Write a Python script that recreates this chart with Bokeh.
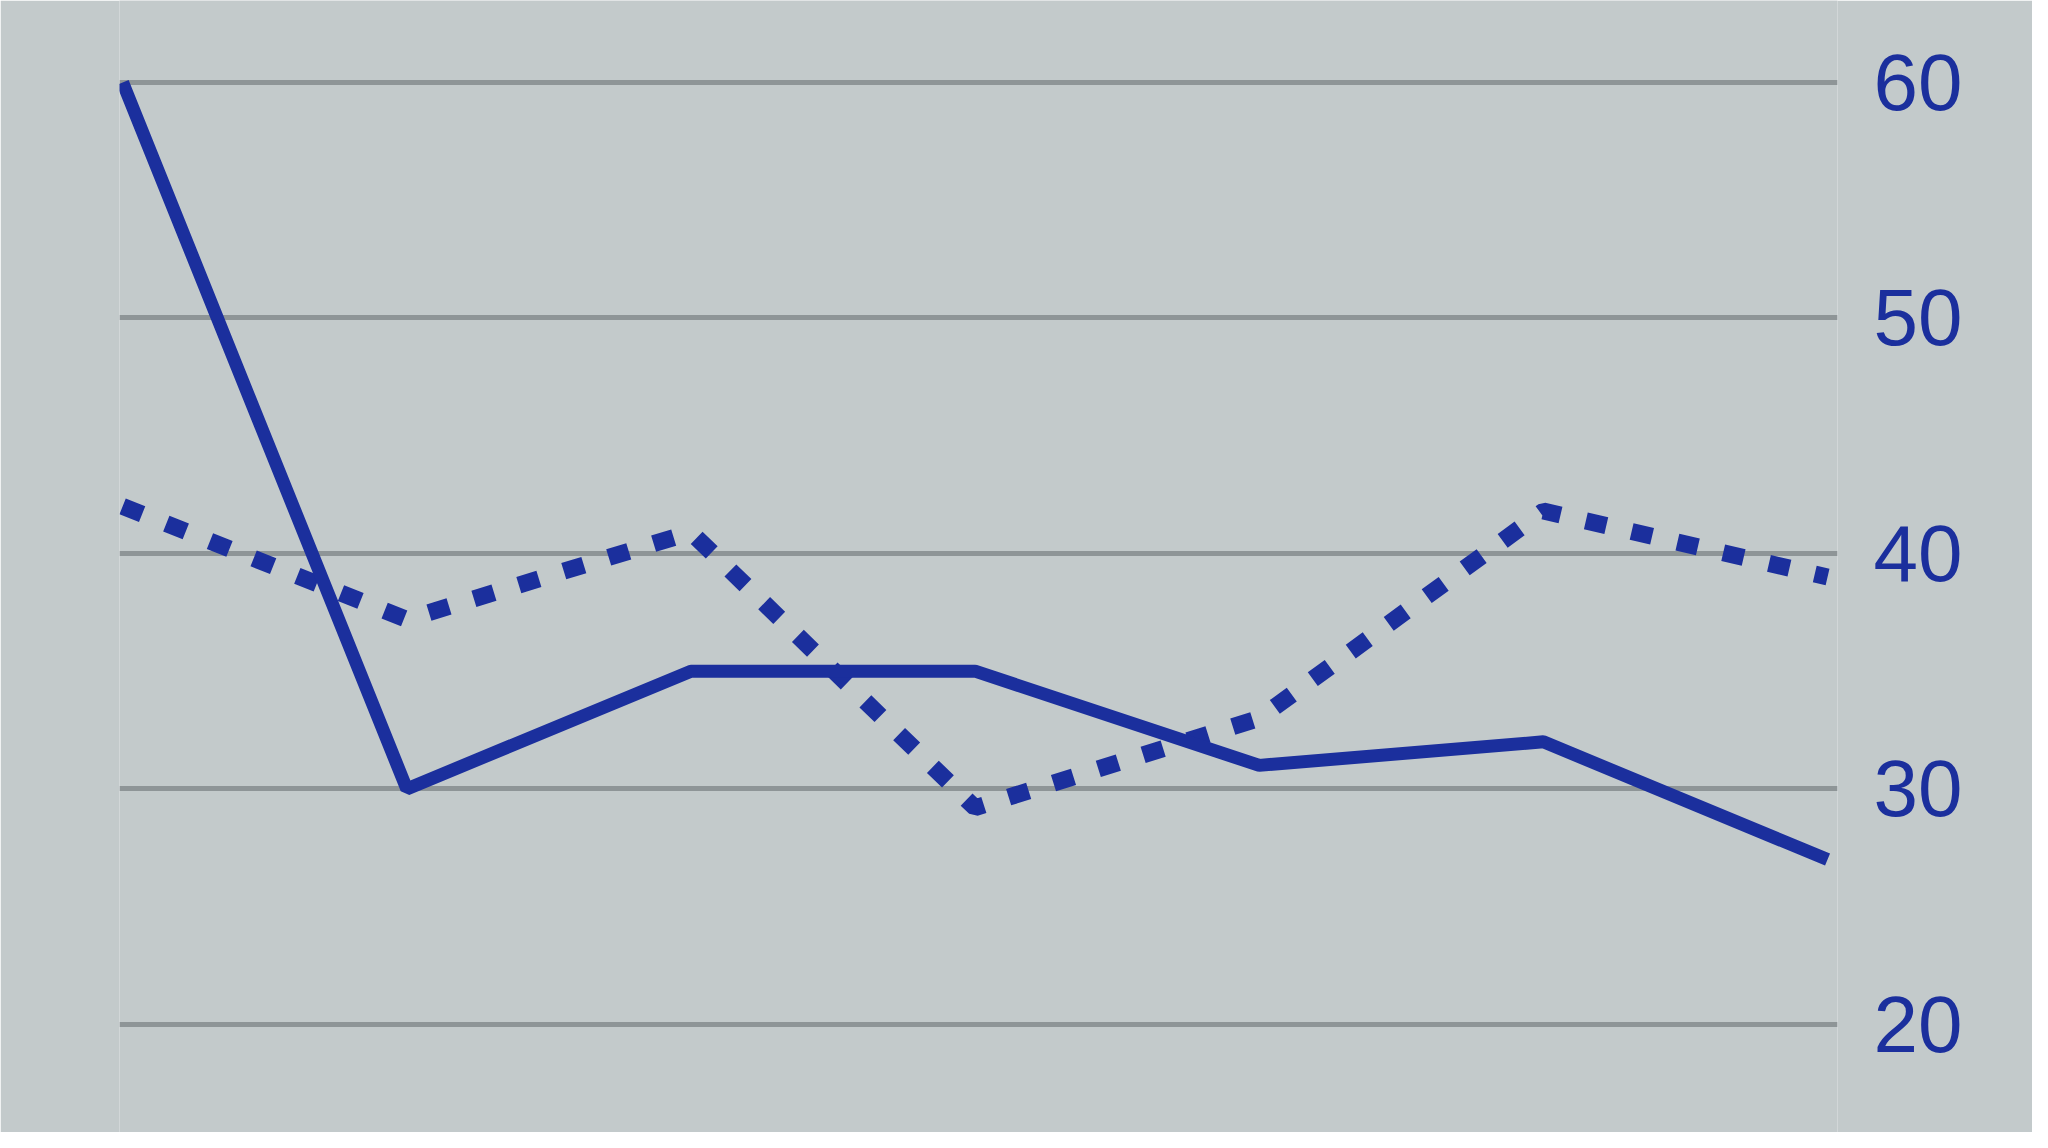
from bokeh.plotting import figure
from bokeh.models import LinearAxis, Range1d, FixedTicker
from bokeh.embed import file_html
from bokeh.resources import INLINE

x_index = [0, 1, 2, 3, 4, 5, 6]
solid_values = [60, 30, 35, 35, 31, 32, 27]
dotted_values = [42, 37.2, 40.9, 29.2, 33, 41.8, 39]
tick_values = [20, 30, 40, 50, 60]

BG = "#c3cacb"
BLUE = "#1b2f9d"
GRID = "#8e9597"

p = figure(width=2032, height=1132, output_backend="svg", toolbar_location=None,
           x_range=Range1d(-0.011, 6.035), y_range=Range1d(15.41, 63.48),
           min_border_left=119, min_border_right=195, min_border_top=0, min_border_bottom=0,
           background_fill_color=BG, border_fill_color=BG, outline_line_color=None)
p.xaxis.visible = False
p.yaxis.visible = False
p.xgrid.grid_line_color = None

ax = LinearAxis(ticker=FixedTicker(ticks=tick_values))
ax.axis_line_color = None
ax.major_tick_line_color = None
ax.minor_tick_line_color = None
ax.major_label_text_font = "Liberation Sans"
ax.major_label_text_font_size = "80px"
ax.major_label_text_color = BLUE
ax.major_label_standoff = 30
p.add_layout(ax, "right")

p.ygrid.ticker = FixedTicker(ticks=tick_values)
p.ygrid.grid_line_color = GRID
p.ygrid.grid_line_width = 5

p.line(x_index, dotted_values, line_color=BLUE, line_width=17, line_dash="21 26")
p.line(x_index, solid_values, line_color=BLUE, line_width=13)

open("out.html", "w").write(file_html(p, INLINE))
